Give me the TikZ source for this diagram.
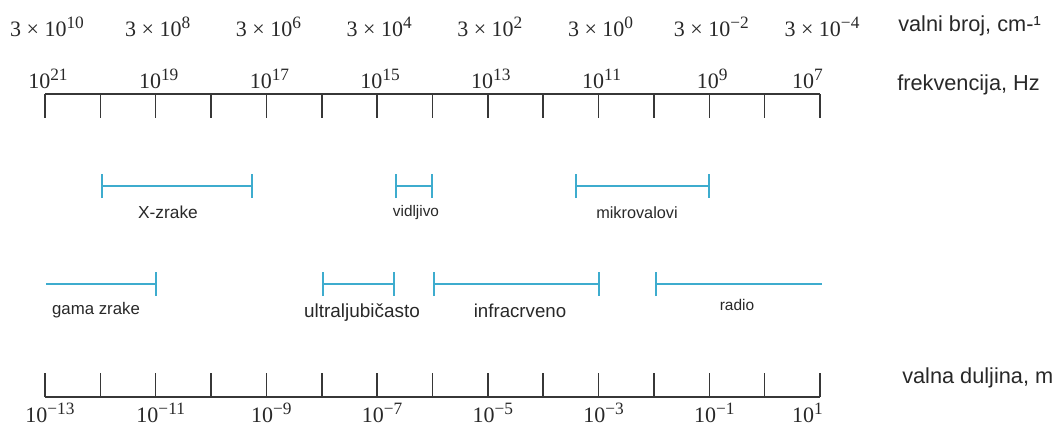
\documentclass[tikz,border=0pt]{standalone}
\usepackage{fontspec}
\setmainfont{Liberation Serif}
\setsansfont{Liberation Sans}
\usetikzlibrary{arrows.meta}
\definecolor{plava}{RGB}{62,172,206}
\definecolor{osboja}{RGB}{55,55,55}
\definecolor{tekst}{RGB}{40,40,40}
\newcommand{\pot}[1]{\raisebox{0.32em}{\fontsize{13}{13}\selectfont #1}}

\begin{document}
\begin{tikzpicture}[x=0.75pt, y=-0.75pt,
    os/.style={draw=osboja, line width=1.1pt},
    pojas/.style={draw=plava, line width=2.2pt},
    kraj/.tip={Bar[width=18pt, line width=1.6pt]},
    broj/.style={font=\fontsize{16.5}{18}\selectfont, text=tekst, anchor=base, inner sep=0pt},
    naziv/.style={font=\sffamily\fontsize{16.3}{18}\selectfont, text=tekst, anchor=base west, inner sep=0pt},
    oznaka/.style={font=\sffamily\fontsize{#1}{16}\selectfont, text=tekst, anchor=base, inner sep=0pt}]
    \useasboundingbox (0,0) rectangle (1057,426);

    % --- skale: frekvencija gore, valna duljina dolje ---
    \foreach \i in {0,...,14} {
        \coordinate (g\i) at ({45+55.357*\i},94);
        \coordinate (d\i) at ({45+55.357*\i},397);
    }
    \draw[os] (g0) -- (g14);
    \draw[os] (d0) -- (d14);
    \foreach \i in {0,...,14} {
        \draw[os] (g\i) -- ++(0,24);
        \draw[os] (d\i) -- ++(0,-24);
    }

    % --- brojevi uz skale ---
    \foreach \e [count=\k from 0] in {10,8,6,4,2,0,−2,−4}
        \node[broj] (vb\k) at ({47+110.714*\k},36) {3 × 10\pot{\e}};
    \foreach \e [count=\k from 0] in {21,19,17,15,13,11,9}
        \node[broj] (fr\k) at ({48+110.714*\k},88) {10\pot{\e}};
    \node[broj, anchor=base east] (fr7) at (823,88) {10\pot{7}};
    \foreach \e [count=\k from 0] in {−13,−11,−9,−7,−5,−3,−1}
        \node[broj] (vd\k) at ({50+110.714*\k},422) {10\pot{\e}};
    \node[broj, anchor=base east] (vd7) at (823,422) {10\pot{1}};

    \node[naziv] (valnibroj) at (898,31) {valni broj, cm-¹};
    \node[naziv] (frekvencija) at (897,90) {frekvencija, Hz};
    \node[naziv] (duljina) at (902,383) {valna duljina, m};

    % --- podrucja spektra, prvi red ---
    \coordinate (xz1) at (101,186); \coordinate (xz2) at (253,186);
    \draw[pojas, kraj-kraj] (xz1) -- (xz2);
    \node[oznaka=13] (xzrake) at (168,218) {X-zrake};
    \coordinate (vi1) at (395,186); \coordinate (vi2) at (433,186);
    \draw[pojas, kraj-kraj] (vi1) -- (vi2);
    \node[oznaka=11.5] (vidljivo) at (416,216) {vidljivo};
    \coordinate (mi1) at (575,186); \coordinate (mi2) at (710,186);
    \draw[pojas, kraj-kraj] (mi1) -- (mi2);
    \node[oznaka=12.2] (mikro) at (637,218) {mikrovalovi};

    % --- podrucja spektra, drugi red ---
    \coordinate (ga1) at (46,284); \coordinate (ga2) at (157,284);
    \draw[pojas, -kraj] (ga1) -- (ga2);
    \node[oznaka=12.6] (gama) at (96,314) {gama zrake};
    \coordinate (uv1) at (322,284); \coordinate (uv2) at (395,284);
    \draw[pojas, kraj-kraj] (uv1) -- (uv2);
    \node[oznaka=14.2] (ultra) at (362,317) {ultraljubičasto};
    \coordinate (ir1) at (433,284); \coordinate (ir2) at (600,284);
    \draw[pojas, kraj-kraj] (ir1) -- (ir2);
    \node[oznaka=14] (infra) at (520,317) {infracrveno};
    \coordinate (ra1) at (655,284); \coordinate (ra2) at (822,284);
    \draw[pojas, kraj-] (ra1) -- (ra2);
    \node[oznaka=11.6] (radio) at (737,310) {radio};
\end{tikzpicture}
\end{document}
